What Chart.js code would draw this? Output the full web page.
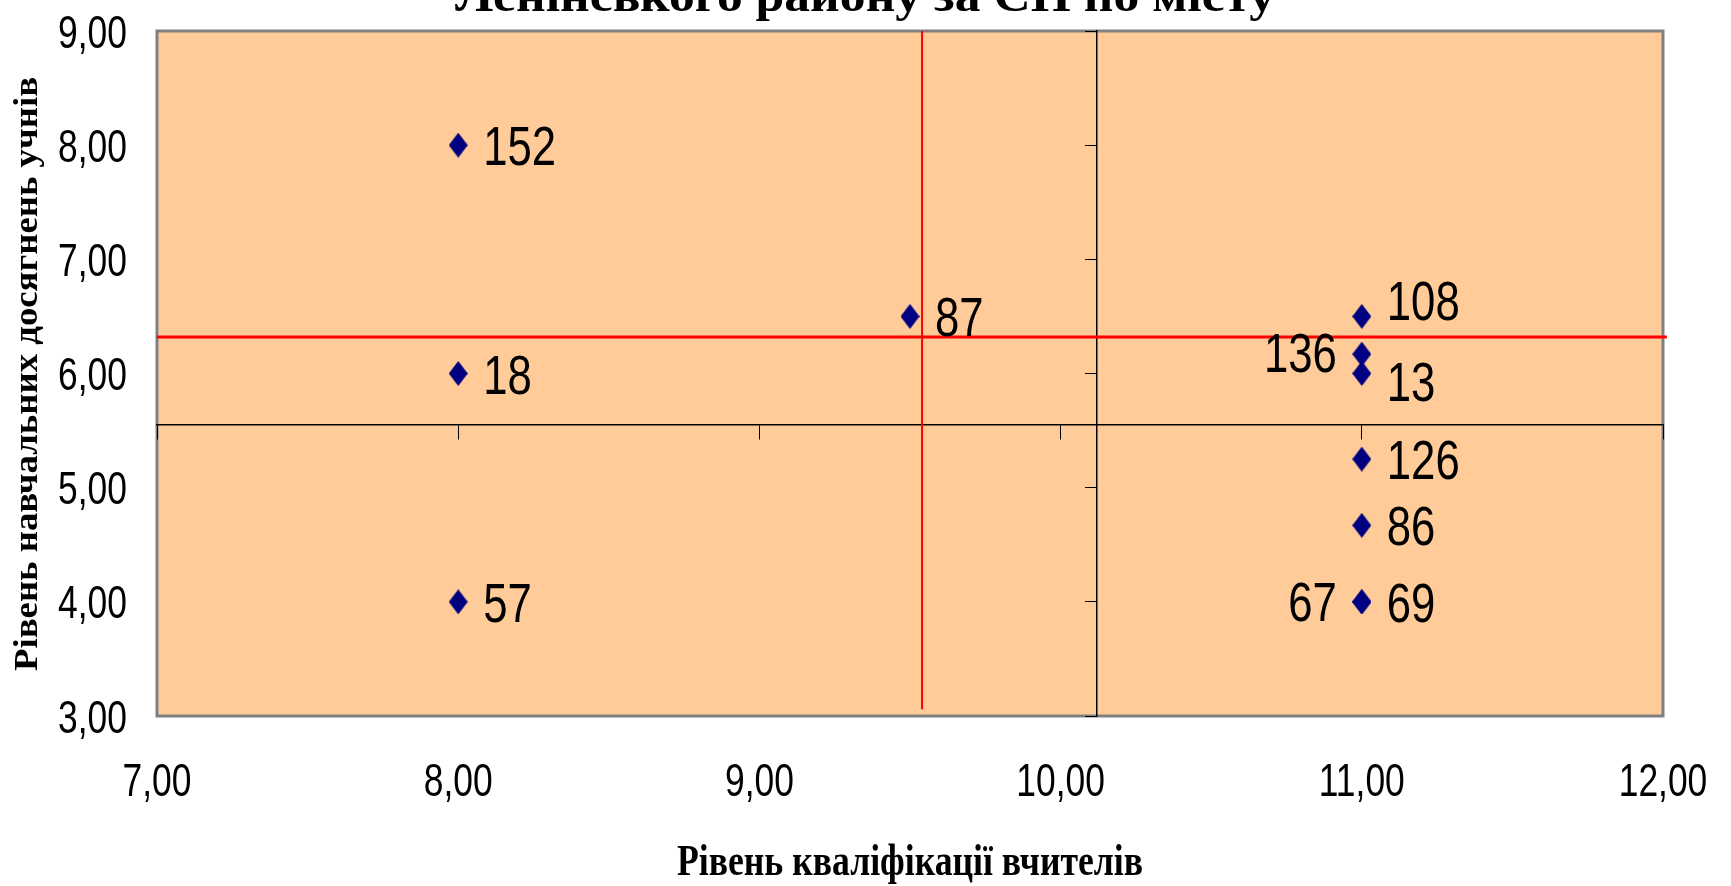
<!DOCTYPE html>
<html>
<head>
<meta charset="utf-8">
<script src="https://cdn.jsdelivr.net/npm/chart.js@4/dist/chart.umd.min.js"></script>
<style>
  html, body { margin: 0; padding: 0; background: #ffffff; }
  #wrap { width: 1731px; height: 886px; }
</style>
</head>
<body>
<div id="wrap"><canvas id="c" width="1731" height="886"></canvas></div>
<script>
// School numbers and their (teacher qualification, pupil achievement) levels
const schoolIds    = ['152', '18', '57', '87', '108', '136', '13', '126', '86', '67', '69'];
const teacherLevel = [8, 8, 8, 9.5, 11, 11, 11, 11, 11, 11, 11];
const pupilLevel   = [8, 6, 4, 6.5, 6.5, 6.17, 6, 5.25, 4.67, 4, 4];

// Axis ticks
const xTicks = [7, 8, 9, 10, 11, 12];
const yTicks = [3, 4, 5, 6, 7, 8, 9];

// City averages (red lines) and where the axes cross
const meanTeacher = 9.54;
const meanPupil = 6.32;
const meanTeacherSpan = [3.06, 9];
const meanPupilSpan = [7, 12.013];
const axisCrossX = 10.12;
const axisCrossY = 5.55;

// Texts
const chartTitle = 'Ленінського району за СП по місту';
const xTitle = 'Рівень кваліфікації вчителів';
const yTitle = 'Рівень навчальних досягнень учнів';

// Label placement per point: side and vertical nudge
const labelSide   = ['r', 'r', 'r', 'r', 'r', 'l', 'r', 'r', 'r', 'l', 'r'];
const labelNudgeY = [0, 0, 0, 0, -16, -2, 7, 0, 0, -1, 0];

const fmt = v => v.toFixed(2).replace('.', ',');

// Diamond marker, a little taller than wide
function makeDiamond(w, h, color) {
  const cv = document.createElement('canvas');
  cv.width = w; cv.height = h;
  const g = cv.getContext('2d');
  g.fillStyle = color;
  g.beginPath();
  g.moveTo(w / 2, 0);
  g.lineTo(w, h / 2);
  g.lineTo(w / 2, h);
  g.lineTo(0, h / 2);
  g.closePath();
  g.fill();
  return cv;
}
const diamond = makeDiamond(19, 25, '#000080');

function drawText(ctx, text, x, y, font, sx, align, baseline) {
  ctx.save();
  ctx.font = font;
  ctx.textAlign = align || 'left';
  ctx.textBaseline = baseline || 'alphabetic';
  ctx.translate(x, y);
  ctx.scale(sx, 1);
  ctx.fillStyle = '#000';
  ctx.fillText(text, 0, 0);
  ctx.restore();
}
function fitScale(ctx, text, font, width) {
  ctx.save();
  ctx.font = font;
  const w = ctx.measureText(text).width;
  ctx.restore();
  return width / w;
}

const framePlugin = {
  id: 'frame',
  beforeDraw(chart) {
    const { ctx, chartArea: a } = chart;
    ctx.save();
    ctx.fillStyle = '#ffffff';
    ctx.fillRect(0, 0, chart.width, chart.height);
    ctx.fillStyle = '#FFCC99';
    ctx.fillRect(a.left, a.top, a.right - a.left, a.bottom - a.top);
    ctx.strokeStyle = '#808080';
    ctx.lineWidth = 3;
    ctx.strokeRect(a.left, a.top, a.right - a.left, a.bottom - a.top);
    ctx.restore();
  }
};

const textPlugin = {
  id: 'texts',
  afterDraw(chart) {
    const { ctx, chartArea: a } = chart;
    const xs = chart.scales.x, ys = chart.scales.y;

    // tick labels along the bottom and the left of the plot
    const tickFont = '46px "Liberation Sans", Arial, sans-serif';
    xTicks.forEach(v => {
      drawText(ctx, fmt(v), xs.getPixelForValue(v), 796, tickFont, 0.77, 'center');
    });
    yTicks.forEach(v => {
      drawText(ctx, fmt(v), 127, ys.getPixelForValue(v) + 16.5, tickFont, 0.77, 'right');
    });

    // point labels
    const labFont = '56px "Liberation Sans", Arial, sans-serif';
    const meta = chart.getDatasetMeta(0);
    meta.data.forEach((pt, i) => {
      const right = labelSide[i] === 'r';
      const x = right ? pt.x + 25 : pt.x - 25;
      const y = pt.y + 20 + labelNudgeY[i];
      drawText(ctx, schoolIds[i], x, y, labFont, 0.78, right ? 'left' : 'right');
    });

    // titles
    const tFont = 'bold 46px "Liberation Serif", "Times New Roman", serif';
    drawText(ctx, chartTitle, 865, 11, tFont, fitScale(ctx, chartTitle, tFont, 820), 'center');

    const xtFont = 'bold 45px "Liberation Serif", "Times New Roman", serif';
    drawText(ctx, xTitle, (a.left + a.right) / 2, 875, xtFont, fitScale(ctx, xTitle, xtFont, 466), 'center');

    const ytFont = 'bold 33px "Liberation Serif", "Times New Roman", serif';
    const ysx = fitScale(ctx, yTitle, ytFont, 594);
    ctx.save();
    ctx.translate(37, 374);
    ctx.rotate(-Math.PI / 2);
    drawText(ctx, yTitle, 0, 0, ytFont, ysx, 'center');
    ctx.restore();
  }
};

new Chart(document.getElementById('c'), {
  type: 'scatter',
  data: {
    datasets: [
      {
        label: 'schools',
        data: teacherLevel.map((x, i) => ({ x: x, y: pupilLevel[i] })),
        pointStyle: diamond,
        pointRadius: 10,
        pointHoverRadius: 10,
        showLine: false,
        order: 0
      },
      {
        label: 'mean teacher',
        data: meanTeacherSpan.map(y => ({ x: meanTeacher, y: y })),
        showLine: true,
        borderColor: '#FF0000',
        borderWidth: 2,
        pointRadius: 0,
        clip: false,
        order: 1
      },
      {
        label: 'mean pupil',
        data: meanPupilSpan.map(x => ({ x: x, y: meanPupil })),
        showLine: true,
        borderColor: '#FF0000',
        borderWidth: 3,
        pointRadius: 0,
        clip: false,
        order: 1
      }
    ]
  },
  options: {
    responsive: false,
    animation: false,
    devicePixelRatio: 1,
    layout: { padding: { left: 157, right: 68, top: 31, bottom: 170 } },
    plugins: {
      legend: { display: false },
      title: { display: false },
      tooltip: { enabled: false }
    },
    scales: {
      x: {
        type: 'linear',
        min: 7, max: 12,
        position: { y: axisCrossY },
        afterBuildTicks: s => { s.ticks = xTicks.map(v => ({ value: v })); },
        ticks: { display: false },
        grid: { drawOnChartArea: false, drawTicks: true, tickLength: 14, color: '#000', lineWidth: 1 },
        border: { display: true, color: '#000', width: 1.5 }
      },
      y: {
        type: 'linear',
        min: 3, max: 9,
        position: { x: axisCrossX },
        afterBuildTicks: s => { s.ticks = yTicks.map(v => ({ value: v })); },
        ticks: { display: false },
        grid: { drawOnChartArea: false, drawTicks: true, tickLength: 11, color: '#000', lineWidth: 1 },
        border: { display: true, color: '#000', width: 1.5 }
      }
    }
  },
  plugins: [framePlugin, textPlugin]
});
</script>
</body>
</html>
